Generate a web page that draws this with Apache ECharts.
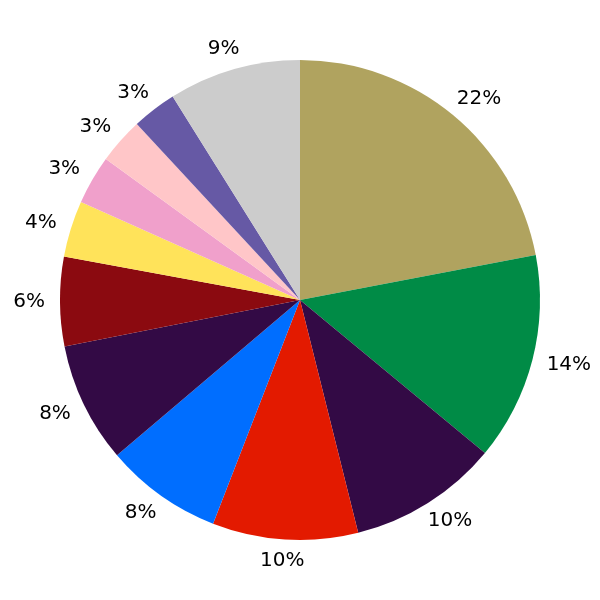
<!DOCTYPE html>
<html><head><meta charset="utf-8">
<script src="https://cdn.jsdelivr.net/npm/echarts@6/dist/echarts.min.js"></script>
<style>html,body{margin:0;padding:0;background:#fff}#c{width:600px;height:600px}</style>
</head><body><div id="c"></div>
<script>
const values = [22, 14, 10.1, 9.8, 7.9, 8.1, 6, 3.8, 3.3, 3.1, 3, 8.9];
const labels = ['22%', '14%', '10%', '10%', '8%', '8%', '6%', '4%', '3%', '3%', '3%', '9%'];
const colors = ['#B0A35F', '#008B46', '#330A45', '#E31A00', '#006EFF', '#330A45', '#8B0A10', '#FFE35A', '#F0A0CB', '#FFC6C8', '#6659A5', '#CCCCCC'];

const FONT_SIZE = 20, FONT = 'DejaVu Sans';
const LABEL_R = 258, HALF_H = 5, SIDE_TRIM = 6, DOWN = 1.5;
const ctx = document.createElement('canvas').getContext('2d');
ctx.font = FONT_SIZE + 'px "' + FONT + '"';
const total = values.reduce((a, b) => a + b, 0);
let cum = 0;
const labelData = values.map((v, i) => {
  const mid = (cum + v / 2) / total * 2 * Math.PI; cum += v;
  const w = ctx.measureText(labels[i]).width;
  const s = Math.sin(mid);
  const sx = s * w / 2 - s * s * s * SIDE_TRIM, sy = -Math.cos(mid) * HALF_H + DOWN;
  const pad = [sy > 0 ? 2 * sy : 0, sx < 0 ? -2 * sx : 0, sy < 0 ? -2 * sy : 0, sx > 0 ? 2 * sx : 0];
  return {value: v, name: 'l' + i, label: {padding: pad}};
});

const chart = echarts.init(document.getElementById('c'), null, {renderer: 'canvas'});
chart.setOption({
  animation: false,
  series: [
    {
      type: 'pie', center: [300, 300], radius: [0, 240], startAngle: 90, clockwise: true,
      silent: true, label: {show: false}, labelLine: {show: false},
      itemStyle: {borderWidth: 0},
      data: values.map((v, i) => ({value: v, name: 's' + i, itemStyle: {color: colors[i]}}))
    },
    {
      type: 'pie', center: [300, 300], radius: [0, LABEL_R * 2], startAngle: 90, clockwise: true,
      silent: true,
      itemStyle: {color: 'rgba(0,0,0,0)', borderWidth: 0},
      label: {show: true, position: 'inside', color: '#000', fontFamily: FONT, fontSize: FONT_SIZE,
        formatter: p => labels[p.dataIndex]},
      labelLine: {show: false},
      data: labelData
    }
  ]
});
</script></body></html>
